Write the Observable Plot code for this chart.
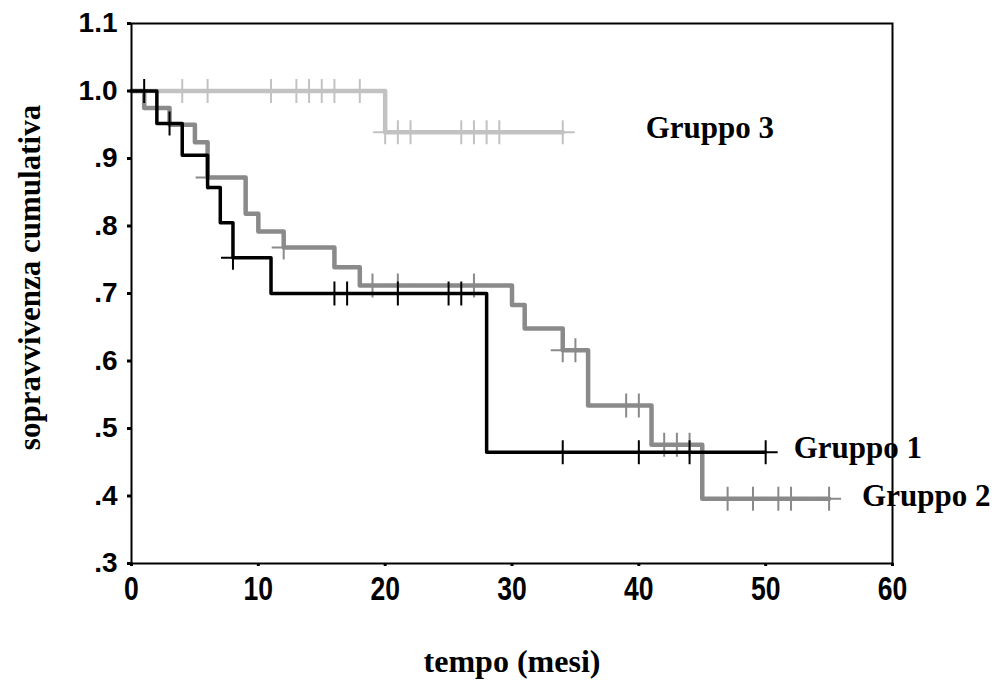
<!DOCTYPE html>
<html>
<head>
<meta charset="utf-8">
<script src="https://cdn.jsdelivr.net/npm/d3@7"></script>
<script src="https://cdn.jsdelivr.net/npm/@observablehq/plot@0.6"></script>
<style>
  html, body { margin: 0; padding: 0; background: #fff; }
  #chart svg { display: block; }
</style>
</head>
<body>
<div id="chart"></div>
<script>
// ---- Data (Kaplan–Meier steps) ----
const groupNames = ["Gruppo 1", "Gruppo 2", "Gruppo 3"];

const g1Times = [0, 2, 4, 6, 7, 8, 11, 28, 50];
const g1Surv  = [1.0, 0.952, 0.905, 0.857, 0.805, 0.753, 0.700, 0.465, 0.465];
const g1Censored = [1, 3, 8, 16, 17, 21, 25, 26, 34, 40, 44, 50];

const g2Times = [0, 1, 3, 5, 6, 9, 10, 12, 16, 18, 30, 31, 34, 36, 41, 45, 55];
const g2Surv  = [1.0, 0.975, 0.950, 0.924, 0.872, 0.818, 0.792, 0.768, 0.739, 0.712, 0.683, 0.648, 0.616, 0.534, 0.476, 0.396, 0.396];
const g2Censored = [6, 12, 19, 21, 27, 34, 35, 39, 40, 42, 43, 44, 47, 49, 51, 52, 55];

const g3Times = [0, 20, 34];
const g3Surv  = [1.0, 0.939, 0.939];
const g3Censored = [4, 6, 11, 13, 14, 15, 16, 18, 20, 21, 22, 26, 27, 28, 29, 34];

const xTicks = [0, 10, 20, 30, 40, 50, 60];
const yTicks = [0.3, 0.4, 0.5, 0.6, 0.7, 0.8, 0.9, 1.0, 1.1];
const yTickLabels = [".3", ".4", ".5", ".6", ".7", ".8", ".9", "1.0", "1.1"];

const xTitle = "tempo (mesi)";
const yTitle = "sopravvivenza cumulativa";

// ---- Build tables ----
function curve(times, surv, name) {
  return times.map((t, i) => ({t, s: surv[i], group: name}));
}
function censorPoints(times, surv, cens, name) {
  return cens.map(c => {
    let s = surv[0];
    for (let i = 0; i < times.length; i++) if (times[i] <= c) s = surv[i];
    return {t: c, s, group: name};
  });
}
const c1 = curve(g1Times, g1Surv, groupNames[0]);
const c2 = curve(g2Times, g2Surv, groupNames[1]);
const c3 = curve(g3Times, g3Surv, groupNames[2]);
const k1 = censorPoints(g1Times, g1Surv, g1Censored, groupNames[0]);
const k2 = censorPoints(g2Times, g2Surv, g2Censored, groupNames[1]);
const k3 = censorPoints(g3Times, g3Surv, g3Censored, groupNames[2]);

// "+" censor symbol drawn with strokes
const plusSymbol = {
  draw(context, size) {
    const r = Math.sqrt(size / Math.PI);
    context.moveTo(-r, 0); context.lineTo(r, 0);
    context.moveTo(0, -r); context.lineTo(0, r);
  }
};

const col1 = "#000000", col2 = "#8a8a8a", col3 = "#c2c2c2";
const serif = "'Liberation Serif', 'Times New Roman', serif";
const sans = "'Liberation Sans', Arial, sans-serif";
const labelStyle = {textAnchor: "start", fontFamily: serif, fontWeight: "bold", fontSize: 31, fill: "#000"};

const chart = Plot.plot({
  width: 995,
  height: 685,
  marginLeft: 131,
  marginRight: 103,
  marginTop: 23,
  marginBottom: 122,
  style: {background: "#fff", color: "#000"},
  x: {domain: [0, 60], ticks: xTicks, label: null},
  y: {domain: [0.3, 1.1], ticks: yTicks, label: null},
  marks: [
    Plot.line(c3, {x: "t", y: "s", curve: "step-after", stroke: col3, strokeWidth: 4.5}),
    Plot.dot(k3, {x: "t", y: "s", symbol: plusSymbol, r: 12, fill: "none", stroke: col3, strokeWidth: 2}),
    Plot.line(c2, {x: "t", y: "s", curve: "step-after", stroke: col2, strokeWidth: 4.5}),
    Plot.dot(k2, {x: "t", y: "s", symbol: plusSymbol, r: 12, fill: "none", stroke: col2, strokeWidth: 2}),
    Plot.line(c1, {x: "t", y: "s", curve: "step-after", stroke: col1, strokeWidth: 3.5}),
    Plot.dot(k1, {x: "t", y: "s", symbol: plusSymbol, r: 12, fill: "none", stroke: col1, strokeWidth: 2}),
    // group labels at end of each curve
    Plot.text(c1, Plot.selectLast({x: "t", y: "s", text: "group", dx: 28, dy: -4, ...labelStyle})),
    Plot.text(c2, Plot.selectLast({x: "t", y: "s", text: "group", dx: 33, dy: -3, ...labelStyle})),
    Plot.text(c3, Plot.selectLast({x: "t", y: "s", text: "group", dx: 83, dy: -4, ...labelStyle})),
    Plot.frame({stroke: "#000", strokeWidth: 2}),
    Plot.axisX({ticks: xTicks, tickSize: 3, tickPadding: 9, strokeWidth: 3, fontSize: 34, fontWeight: "bold", fontFamily: sans, label: null}),
    Plot.axisY({ticks: yTicks, tickFormat: d => yTickLabels[yTicks.findIndex(v => Math.abs(v - d) < 1e-9)], tickSize: 4, tickPadding: 10, strokeWidth: 3, fontSize: 28, fontWeight: "bold", fontFamily: sans, label: null}),
    Plot.text([xTitle], {frameAnchor: "bottom", dy: 108, text: d => d, fontFamily: serif, fontWeight: "bold", fontSize: 32, fill: "#000"}),
    Plot.text([yTitle], {frameAnchor: "left", dx: -101, dy: -16, rotate: -90, textAnchor: "middle", text: d => d, fontFamily: serif, fontWeight: "bold", fontSize: 31, fill: "#000"})
  ]
});

// condense the x tick labels horizontally (as in the reference)
d3.select(chart).selectAll("g[aria-label='x-axis tick label'] text").each(function() {
  const t = this.getAttribute("transform") || "";
  this.setAttribute("transform", t + " scale(0.78,1)");
});

document.getElementById("chart").appendChild(chart);
</script>
</body>
</html>
